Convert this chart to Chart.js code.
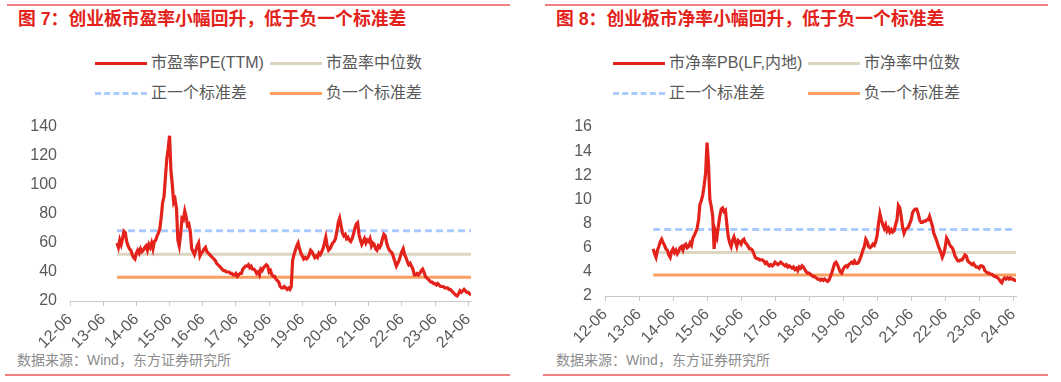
<!DOCTYPE html>
<html>
<head>
<meta charset="utf-8">
<script src="https://cdn.jsdelivr.net/npm/chart.js@4.4.1/dist/chart.umd.min.js"></script>
<style>
  html, body { margin: 0; padding: 0; background: #fff; }
  body { width: 1061px; height: 382px; position: relative; overflow: hidden;
         font-family: "Liberation Sans", "Noto Sans CJK SC", sans-serif; }
  .rule { position: absolute; height: 2px; background: #f08080; }
  .title { position: absolute; top: 9px; font-size: 17.8px; line-height: 20px; font-weight: bold;
           color: #e3231b; white-space: nowrap; }
  .source { position: absolute; top: 351px; font-size: 14px; line-height: 18px; color: #8c8c8c; white-space: nowrap; }
  .lg-mark { position: absolute; width: 52px; height: 0; }
  .lg-text { position: absolute; font-size: 16px; line-height: 20px; color: #595959; white-space: nowrap; }
  canvas { position: absolute; }
</style>
</head>
<body>
<div class="rule" style="left:7px;width:503px;top:4px"></div>
<div class="rule" style="left:545px;width:503px;top:4px"></div>
<div class="title" style="left:18px">图 7：创业板市盈率小幅回升，低于负一个标准差</div>
<div class="title" style="left:556px">图 8：创业板市净率小幅回升，低于负一个标准差</div>
<div id="legend1"></div>
<div id="legend2"></div>
<canvas id="pe-canva" width="520" height="251" style="left:0;top:100px;width:520px;height:251px"></canvas>
<canvas id="pb-canva" width="530" height="246" style="left:530px;top:100px;width:530px;height:246px"></canvas>
<div class="source" style="left:17px">数据来源：Wind，东方证券研究所</div>
<div class="source" style="left:556px">数据来源：Wind，东方证券研究所</div>
<div class="rule" style="left:5px;width:505px;top:374px"></div>
<div class="rule" style="left:543px;width:505px;top:374px"></div>

<script>
// months counted from 2012-06, one tick per year
const xTickLabels = ['12-06','13-06','14-06','15-06','16-06','17-06','18-06','19-06','20-06','21-06','22-06','23-06','24-06'];
const tickMonths = [0,12,24,36,48,60,72,84,96,108,120,132,144];
const firstMonth = 17; // 2013-11, values every half month

const peNames = ['市盈率PE(TTM)', '市盈率中位数', '正一个标准差', '负一个标准差'];
const pbNames = ['市净率PB(LF,内地)', '市净率中位数', '正一个标准差', '负一个标准差'];

const peValues = [
  60, 57, 62, 59, 63, 68, 67, 61, 58, 56,
  55, 52, 50, 49, 53, 55, 53, 56, 54, 55,
  57, 58, 55, 59, 57, 60, 56, 61, 62, 65,
  67, 70, 78, 88, 92, 105, 118, 125, 134, 110,
  100, 88, 90, 84, 62, 58, 66, 77, 76, 82,
  78, 72, 73, 68, 56, 54, 52, 55, 58, 60,
  51, 53, 54, 56, 57, 54, 53, 52, 51, 50,
  49, 48, 46, 45, 44, 43, 42, 41, 41, 40,
  40, 40, 39, 39, 38, 38, 39, 37, 38, 39,
  39, 42, 43, 44, 44, 45, 43, 44, 42, 42,
  41, 39, 40, 38, 42, 41, 43, 44, 45, 44,
  40, 41, 38, 37, 37, 35, 34, 33, 30, 29,
  29, 30, 29, 28, 29, 28, 30, 48, 52, 55,
  58, 60, 56, 53, 51, 49, 50, 49, 50, 52,
  55, 54, 52, 50, 51, 50, 53, 52, 54, 56,
  60, 64, 58, 55, 56, 58, 60, 61, 63, 68,
  74, 77, 72, 67, 65, 66, 63, 64, 62, 61,
  63, 66, 70, 73, 74, 66, 62, 59, 61, 63,
  60, 62, 61, 63, 58, 60, 59, 56, 55, 58,
  57, 59, 63, 66, 65, 60, 57, 55, 54, 53,
  50, 47, 44, 46, 48, 51, 54, 56, 52, 50,
  47, 45, 46, 44, 42, 38, 38, 39, 38, 39,
  41, 42, 40, 37, 36, 35, 34, 33, 33, 32,
  32, 31, 32, 31, 30, 30, 30, 29, 29, 29,
  28, 28, 27, 26, 25, 24, 23.5, 25, 27, 26,
  27, 28, 27, 26, 26, 25, 24
];
const peMedian = 52.2;
const peUpper = 68.5;
const peLower = 36.3;

const pbValues = [
  5.9, 5.5, 5.2, 5.8, 6.1, 6.5, 6.7, 6.4, 6.2, 5.9,
  5.8, 5.4, 5.2, 5.7, 5.9, 5.6, 5.8, 5.5, 5.7, 6.0,
  6.1, 5.8, 6.2, 6.3, 6.0, 6.1, 6.4, 6.2, 6.8, 7.0,
  7.3, 7.6, 8.3, 9.6, 9.9, 10.4, 11.2, 12.2, 14.7, 13.0,
  10.0, 9.4, 8.6, 5.9, 7.3, 6.9, 7.8, 8.6, 9.2, 9.3,
  9.0, 9.1, 7.9, 6.9, 6.4, 6.1, 6.6, 6.9, 6.5, 6.1,
  6.6, 6.5, 6.3, 6.6, 6.7, 6.4, 6.3, 6.1, 5.9, 5.9,
  5.8, 5.5, 5.2, 5.1, 5.1, 5.0, 5.0, 5.0, 4.9, 4.7,
  4.8, 4.6, 4.5, 4.6, 4.5, 4.6, 4.8, 4.7, 4.6, 4.7,
  4.8, 4.7, 4.6, 4.5, 4.6, 4.4, 4.5, 4.4, 4.3, 4.4,
  4.2, 4.3, 4.1, 4.4, 4.3, 4.5, 4.4, 4.2, 4.0, 3.9,
  3.9, 3.8, 3.7, 3.6, 3.6, 3.5, 3.4, 3.4, 3.3, 3.4,
  3.3, 3.4, 3.3, 3.2, 3.3, 3.6, 3.9, 4.3, 4.7, 4.8,
  4.6, 4.3, 4.0, 3.9, 4.2, 4.4, 4.5, 4.4, 4.6, 4.7,
  4.8, 4.7, 4.9, 4.7, 4.7, 4.8, 5.1, 5.4, 5.8, 6.1,
  6.7, 6.5, 6.1, 6.0, 6.1, 6.3, 6.2, 6.5, 7.0, 8.0,
  8.8, 8.3, 7.9, 7.6, 7.9, 7.4, 7.6, 7.3, 7.5, 7.3,
  7.4, 7.9, 8.3, 9.5, 9.3, 8.6, 7.7, 7.2, 7.5, 7.6,
  7.7, 8.0, 8.3, 8.9, 9.1, 9.2, 9.2, 8.8, 8.3, 8.1,
  8.1, 8.2, 8.2, 8.3, 8.3, 8.6, 8.2, 7.8, 7.2, 6.9,
  6.6, 6.2, 5.9, 5.6, 5.2, 5.5, 6.0, 6.8, 6.6, 6.3,
  6.1, 6.0, 5.7, 5.3, 5.1, 4.9, 4.9, 5.0, 5.0, 5.2,
  5.4, 5.3, 4.9, 4.8, 4.7, 4.6, 4.7, 4.5, 4.4, 4.4,
  4.3, 4.5, 4.5, 4.4, 4.1, 4.0, 3.9, 3.9, 3.8, 3.8,
  3.7, 3.6, 3.6, 3.5, 3.4, 3.2, 3.1, 3.4, 3.5, 3.4,
  3.5, 3.4, 3.5, 3.4, 3.4, 3.3, 3.3
];
const pbMedian = 5.6;
const pbUpper = 7.5;
const pbLower = 3.75;

const colors = ['#e3231b', '#ddd5c0', '#a9cbff', '#f9a061'];
const tickFont = { family: '"Liberation Sans", "Noto Sans CJK SC", sans-serif', size: 16 };

function toPoints(values) {
  return values.map((v, i) => ({ x: firstMonth + i / 2, y: v }));
}

function flatLine(values, level) {
  const lastMonth = firstMonth + (values.length - 1) / 2;
  return [{ x: firstMonth, y: level }, { x: lastMonth, y: level }];
}

function makeDatasets(names, values, median, upper, lower) {
  return [
    { label: names[0], data: toPoints(values), borderColor: colors[0], borderWidth: 3.2 },
    { label: names[1], data: flatLine(values, median), borderColor: colors[1], borderWidth: 3 },
    { label: names[2], data: flatLine(values, upper), borderColor: colors[2], borderWidth: 3, borderDash: [7, 4] },
    { label: names[3], data: flatLine(values, lower), borderColor: colors[3], borderWidth: 3 }
  ];
}

function makeConfig(datasets, yMin, yMax, yStep, yWidth, padRight) {
  return {
    type: 'line',
    data: { datasets: datasets },
    options: {
      responsive: false,
      animation: false,
      parsing: false,
      layout: { padding: { top: 27, right: padRight, left: 0, bottom: 0 } },
      plugins: { legend: { display: false }, tooltip: { enabled: false } },
      elements: { point: { radius: 0 }, line: { tension: 0, borderCapStyle: 'butt' } },
      scales: {
        x: {
          type: 'linear',
          min: 0,
          max: 145,
          afterBuildTicks: s => { s.ticks = tickMonths.map(v => ({ value: v })); },
          afterFit: s => { s.height = 50; },
          ticks: {
            autoSkip: false,
            minRotation: 45,
            maxRotation: 45,
            padding: 4,
            color: '#595959',
            font: tickFont,
            callback: (v, i) => xTickLabels[i]
          },
          grid: { drawOnChartArea: false, drawTicks: true, tickLength: 5, color: '#c8c8c8' },
          border: { display: true, color: '#c8c8c8', width: 1 }
        },
        y: {
          min: yMin,
          max: yMax,
          afterFit: s => { s.width = yWidth; },
          ticks: { stepSize: yStep, padding: 13, color: '#595959', font: tickFont },
          grid: { display: false, drawTicks: false },
          border: { display: false }
        }
      }
    }
  };
}

// legend in two columns, two rows, like the report
function buildLegend(el, names, col1, col2) {
  const spots = [[col1, 63], [col2, 63], [col1, 93], [col2, 93]];
  names.forEach((name, i) => {
    const [x, y] = spots[i];
    const mark = document.createElement('div');
    mark.className = 'lg-mark';
    mark.style.left = x + 'px';
    mark.style.top = (y - 1.5) + 'px';
    mark.style.borderTop = '3px ' + (i === 2 ? 'dashed ' : 'solid ') + colors[i];
    el.appendChild(mark);
    const txt = document.createElement('div');
    txt.className = 'lg-text';
    txt.style.left = (x + 56) + 'px';
    txt.style.top = (y - 10) + 'px';
    txt.textContent = name;
    el.appendChild(txt);
  });
}

buildLegend(document.getElementById('legend1'), peNames, 95, 270);
buildLegend(document.getElementById('legend2'), pbNames, 613, 808);

const peChart = new Chart(document.getElementById('pe-canva'),
  makeConfig(makeDatasets(peNames, peValues, peMedian, peUpper, peLower), 20, 140, 20, 70, 49));
const pbChart = new Chart(document.getElementById('pb-canva'),
  makeConfig(makeDatasets(pbNames, pbValues, pbMedian, pbUpper, pbLower), 2, 16, 2, 75, 44));
</script>
</body>
</html>
